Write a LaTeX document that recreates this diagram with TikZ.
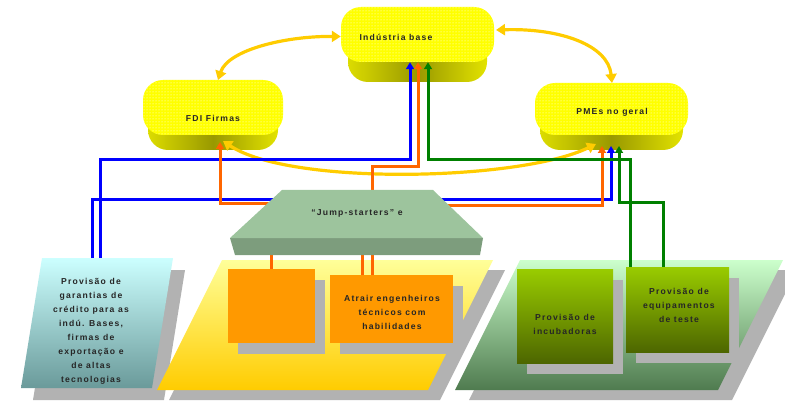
\documentclass[tikz,border=0pt]{standalone}
\usepackage{fontspec}
\setmainfont{Liberation Sans}
\newfontfamily\lab[LetterSpace=14]{Liberation Sans Bold}
\usetikzlibrary{arrows.meta,patterns,shadows,calc}
\definecolor{pillY}{HTML}{FFFF00}
\definecolor{pside}{HTML}{999900}
\definecolor{psideL}{HTML}{DCDC00}
\definecolor{arcC}{HTML}{FFCC00}
\definecolor{lineB}{HTML}{0000FF}
\definecolor{lineO}{HTML}{FF6600}
\definecolor{lineG}{HTML}{008000}
\definecolor{jumpTop}{HTML}{9DC49D}
\definecolor{jumpSide}{HTML}{7D9D7D}
\definecolor{lTop}{HTML}{CCFFFF}
\definecolor{lBot}{HTML}{6A9A9A}
\definecolor{mTop}{HTML}{FFFF99}
\definecolor{mBot}{HTML}{FFCC00}
\definecolor{rTop}{HTML}{CCFFCC}
\definecolor{rBot}{HTML}{4F7B4F}
\definecolor{gbTop}{HTML}{99CC00}
\definecolor{gbBot}{HTML}{4D6600}
\definecolor{obox}{HTML}{FF9900}
\begin{document}
\begin{tikzpicture}[x=1pt,y=-1pt,
  txt/.style={font={\lab\fontsize{8.6}{14}\selectfont}, align=center, inner sep=0pt, text=black!85},
  shd/.style={fill=black!30},
  pill/.style={fill=pillY, rounded corners=20pt, inner sep=0pt, postaction={pattern=dots, pattern color=white}},
  pillside/.style={left color=psideL, right color=psideL!80!yellow, middle color=pside, rounded corners=20pt},
  bxshadow/.style={drop shadow={shadow xshift=10pt, shadow yshift=-11pt, fill=black!30, opacity=1}},
  obx/.style={fill=obox, inner sep=0pt, bxshadow},
  gbx/.style={top color=gbTop, bottom color=gbBot, inner sep=0pt, bxshadow},
  tip/.style={-{Triangle[length=7pt,width=8pt]}},
  bline/.style={line width=3pt, draw=lineB, tip},
  oline/.style={line width=3pt, draw=lineO, tip},
  oplain/.style={line width=3pt, draw=lineO},
  gline/.style={line width=3pt, draw=lineG, tip},
  arcline/.style={line width=3.2pt, draw=arcC, {Triangle[length=9pt,width=11pt]}-{Triangle[length=9pt,width=11pt]}}]
\useasboundingbox (0,0) rectangle (785,401);

% ---------- base parallelograms ----------
\begin{scope}[shift={(12,12)}]
  \fill[shd] (42,258) -- (173,258) -- (152,388) -- (21,388) -- cycle;
\end{scope}
\begin{scope}[shift={(12,10)}]
  \fill[shd] (222,260) -- (493,260) -- (428,390) -- (157,390) -- cycle;
\end{scope}
\begin{scope}[shift={(14,10)}]
  \fill[shd] (520,260) -- (783,260) -- (718,390) -- (455,390) -- cycle;
\end{scope}
\path[top color=lTop, bottom color=lBot] (42,258) -- (173,258) -- (152,388) -- (21,388) -- cycle;
\path[top color=mTop, bottom color=mBot] (222,260) -- (493,260) -- (428,390) -- (157,390) -- cycle;
\path[top color=rTop, bottom color=rBot] (520,260) -- (783,260) -- (718,390) -- (455,390) -- cycle;

% ---------- boxes ----------
\node[obx, minimum width=87pt, minimum height=74pt] (ob1) at (271.5,306) {};
\node[obx, minimum width=123pt, minimum height=68pt] (ob2) at (391.5,309) {};
\node[gbx, minimum width=96pt, minimum height=94pt] (gb1) at (565,316) {};
\node[gbx, minimum width=103pt, minimum height=85pt] (gb2) at (677.5,309.5) {};

% ---------- pills ----------
\path[pillside] (348,22) rectangle (487,82);
\node[pill, minimum width=153pt, minimum height=55pt] (ind) at (417.5,34.5) {};
\path[pillside] (148,95) rectangle (278,150);
\node[pill, minimum width=140pt, minimum height=55pt] (fdi) at (213,107.5) {};
\path[pillside] (540,95) rectangle (683,150);
\node[pill, minimum width=153pt, minimum height=52pt] (pme) at (611.5,109) {};

% ---------- curved arrows between pills ----------
\draw[arcline] ([yshift=-2pt]ind.west) .. controls (285,36) and (228,50) .. (218,80);
\draw[arcline] (496,30) .. controls (560,28) and (608,45) .. (612,83);
\draw[arcline] (223,141) .. controls (290,186) and (520,181) .. (596,144);

% ---------- connectors ----------
\coordinate (fdiTip) at (0,142);
\coordinate (pmeTip) at (0,146);
\coordinate (jumpB) at (0,252);
% blue
\coordinate (b1s) at (100,258); \coordinate (b1k) at (410,160);
\draw[bline] (b1s) |- (b1k) -- (b1k |- ind.south);
\coordinate (b2s) at (92,258); \coordinate (b2k) at (611,200);
\draw[bline] (b2s) |- (b2k) -- (b2k |- pmeTip);
% orange
\coordinate (o1s) at (300,204); \coordinate (o1k) at (220,204);
\draw[oline] (o1s) -- (o1k) -- (o1k |- fdiTip);
\coordinate (o2s) at (372,210); \coordinate (o2k) at (418,167);
\draw[oline] (o2s) |- (o2k) -- (o2k |- ind.south);
\coordinate (o3s) at (420,206); \coordinate (o3k) at (602,206);
\draw[oline] (o3s) -- (o3k) -- (o3k |- pmeTip);
\draw[oplain] (ob1.north) -- (ob1.north |- jumpB);
\draw[oplain] ([xshift=-29.5pt]ob2.north) -- ([xshift=-29.5pt]ob2.north |- jumpB);
\draw[oplain] ([xshift=-19.5pt]ob2.north) -- ([xshift=-19.5pt]ob2.north |- jumpB);
% green
\coordinate (g1k) at (428,160);
\draw[gline] ([xshift=-47.5pt]gb2.north) |- (g1k) -- (g1k |- ind.south);
\coordinate (g2k) at (619,203);
\draw[gline] ([xshift=-14.5pt]gb2.north) |- (g2k) -- (g2k |- pmeTip);

% ---------- jump-starters ----------
\fill[jumpSide] (230,238) -- (483,238) -- (480,255) -- (235,255) -- cycle;
\fill[jumpTop] (282,190) -- (433,190) -- (483,238) -- (230,238) -- cycle;
\node[txt] (jump) at (357,213) {“Jump-starters” e};

% ---------- texts ----------
\node[txt] (indl) at (396,37) {Indústria base};
\node[txt] (fdil) at (213,118) {FDI Firmas};
\node[txt] (pmel) at (612,112) {PMEs no geral};
\node[txt] (lbox) at (91,331) {Provisão de\\garantias de\\crédito para as\\indú. Bases,\\firmas de\\exportação e\\de altas\\tecnologias};
\node[txt] (ob2l) at (392,312) {Atrair engenheiros\\técnicos com\\habilidades};
\node[txt] (gb1l) at (565,324.5) {Provisão de\\incubadoras};
\node[txt] (gb2l) at (679,305) {Provisão de\\equipamentos\\de teste};
\end{tikzpicture}
\end{document}
